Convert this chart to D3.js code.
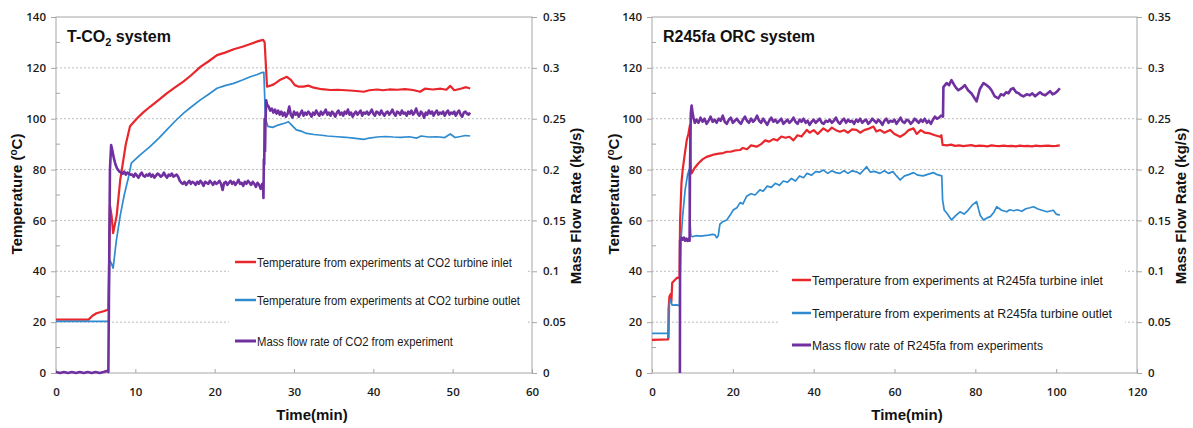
<!DOCTYPE html>
<html><head><meta charset="utf-8">
<script src="https://cdn.jsdelivr.net/npm/d3@7"></script>
<style>body{margin:0;background:#fff}</style>
</head><body>
<script>
// ---------------- DATA ----------------
const tempTicks=[0,20,40,60,80,100,120,140];
const tempMinorTicks=[10,30,50,70,90,110,130];
const flowTicks=[0,0.05,0.1,0.15,0.2,0.25,0.3,0.35];
const flowTickLabels=["0","0.05","0.1","0.15","0.2","0.25","0.3","0.35"];
const co2TimeTicks=[0,10,20,30,40,50,60];
const orcTimeTicks=[0,20,40,60,80,100,120];
const co2LegendLabels=["Temperature from experiments at CO2 turbine inlet","Temperature from experiments at CO2 turbine outlet","Mass flow rate of CO2 from experiment"];
const orcLegendLabels=["Temperature from experiments at R245fa turbine inlet","Temperature from experiments at R245fa turbine outlet","Mass flow rate of R245fa from experiments"];

// T-CO2 system : [time (min), temperature (°C)]
const co2Inlet=[[0,21],[4.1,21],[4.6,22.5],[5.1,23.5],[6.0,24.3],[6.6,25],[6.7,45],[6.8,66],[7.0,62],[7.2,55],[7.65,62],[8.1,76],[8.8,90],[9.33,97],[10.2,100.1],[11,102.5],[11.85,104.7],[13,107.5],[13.96,110],[15,112.3],[16.05,114.6],[17,117],[18.2,120.4],[19.2,122.5],[20.3,125],[21.3,126],[22.4,127.3],[23.5,128.3],[24.5,129.4],[25.5,130.5],[26.1,131],[26.3,130],[26.6,112.6],[27.0,113],[27.5,113.6],[28.2,115.2],[29.1,116.5],[29.6,115.3],[30.1,113.2],[30.6,112.6],[31.2,112.6],[31.8,113],[32.5,112.2],[33.5,111.6],[34.6,111.3],[35.5,111.4],[36.5,111.2],[37.5,111],[38.8,110.6],[39.5,111.2],[40.5,111.5],[41.2,111.2],[42,111.5],[43,111.4],[44,111.6],[45,111.3],[45.9,110.6],[46.5,111.8],[47.5,111.5],[48.5,111.8],[49.2,111.4],[49.7,112.9],[50.2,111.2],[51,111.8],[51.7,112.4],[52.2,111.9]];
const co2Outlet=[[0,20.3],[6.65,20.3],[6.75,44.5],[7.0,43],[7.2,41.2],[7.6,52],[8.1,62],[8.6,70],[9.1,76.5],[9.5,82.5],[10.5,85.5],[11.85,89],[13,92.5],[13.96,95.6],[15,99],[16.05,102.1],[17,104.5],[18.2,107.4],[19.2,109.5],[20.3,112],[21.3,113],[22.4,113.9],[23.5,115.2],[24.5,116.5],[25.3,117.3],[25.9,118.1],[26.2,118.2],[26.4,100],[26.7,97],[27.3,96.6],[28,97.5],[28.9,98.3],[29.3,98.8],[29.8,97.2],[30.3,95.6],[31,95],[31.6,94.2],[32.5,93.8],[33.5,93.5],[34.2,93.2],[35.5,92.9],[36.5,92.7],[37.5,92.4],[38.8,91.9],[39.5,92.4],[40.5,92.8],[41.5,93],[42.5,92.8],[43.5,92.7],[44.5,92.9],[45.5,92.4],[46,93.2],[47,92.8],[48,92.9],[49,92.6],[49.7,94],[50.3,92.6],[51,93],[51.6,93.4],[52.2,93.2]];
// [time (min), mass flow rate (kg/s)]
const co2Flow=[[0,0.001],[0.5,0],[1,0.001],[1.5,0],[2,0.001],[2.5,0],[3,0.001],[3.5,0],[4,0.001],[4.5,0],[5,0.001],[5.5,0],[6,0.001],[6.4,0.002],[6.6,0.001],[6.7,0.1],[6.8,0.2],[6.95,0.224],[7.1,0.219],[7.3,0.211],[7.5,0.205],[7.7,0.201],[7.9,0.199],[8.0,0.198],
[8.2,.197],[8.4,.196],[8.6,.198],[8.8,.195],[9.0,.197],[9.2,.196],[9.4,.195],
[9.6,.195],[9.8,.193],[10.0,.196],[10.2,.194],[10.4,.192],[10.6,.195],[10.8,.197],[11.0,.194],[11.2,.193],[11.4,.195],[11.6,.194],[11.8,.196],[12.0,.193],[12.2,.195],[12.4,.192],[12.6,.194],[12.8,.196],[13.0,.195],[13.2,.193],[13.4,.194],[13.6,.197],[13.8,.194],[14.0,.192],[14.2,.195],[14.4,.194],[14.6,.196],[14.8,.193],[15.0,.194],[15.2,.195],[15.4,.193],
[15.6,.189],[15.8,.187],[16.0,.186],[16.2,.188],[16.4,.185],[16.6,.187],[16.8,.189],[17.0,.186],[17.2,.188],[17.4,.187],[17.6,.185],[17.8,.188],[18.0,.186],[18.2,.189],[18.4,.187],[18.6,.184],[18.8,.188],[19.0,.187],[19.2,.186],[19.4,.189],[19.6,.187],[19.8,.185],[20.0,.188],[20.2,.186],[20.4,.187],[20.6,.189],[20.8,.186],[21.0,.180],[21.2,.187],[21.4,.188],[21.6,.185],[21.8,.187],[22.0,.189],[22.2,.186],[22.4,.188],[22.6,.185],[22.8,.187],[23.0,.190],[23.2,.186],[23.4,.187],[23.6,.184],[23.8,.188],[24.0,.186],[24.2,.189],[24.4,.187],[24.6,.185],[24.8,.188],[25.0,.186],[25.2,.183],[25.4,.187],[25.6,.185],[25.8,.181],[26.0,.186],
[26.1,.184],[26.15,.172],[26.2,.21],[26.25,.205],[26.3,.25],[26.35,.218],[26.4,.245],[26.5,.268],[26.6,.264],
[26.8,.262],[27.0,.258],[27.2,.260],[27.4,.256],[27.6,.259],[27.8,.255],[28.0,.258],[28.2,.254],[28.4,.257],[28.6,.253],[28.8,.256],[29.0,.252],[29.2,.255],[29.4,.262],[29.6,.254],[29.8,.251],
[30.0,.257],[30.2,.254],[30.4,.256],[30.6,.252],[30.8,.255],[31.0,.258],[31.2,.253],[31.4,.256],[31.6,.254],[31.8,.257],
[32.0,.255],[32.2,.252],[32.4,.256],[32.6,.254],[32.8,.258],[33.0,.255],[33.2,.253],[33.4,.257],[33.6,.254],[33.8,.256],
[34.0,.259],[34.2,.254],[34.4,.256],[34.6,.253],[34.8,.257],[35.0,.255],[35.2,.252],[35.4,.256],[35.6,.258],[35.8,.254],
[36.0,.256],[36.2,.253],[36.4,.257],[36.6,.255],[36.8,.259],[37.0,.254],[37.2,.256],[37.4,.252],[37.6,.255],[37.8,.257],
[38.0,.254],[38.2,.256],[38.4,.258],[38.6,.253],[38.8,.256],[39.0,.255],[39.2,.257],[39.4,.254],[39.6,.256],[39.8,.259],
[40.0,.255],[40.2,.253],[40.4,.257],[40.6,.256],[40.8,.254],[41.0,.258],[41.2,.255],[41.4,.253],[41.6,.256],[41.8,.257],
[42.0,.254],[42.2,.256],[42.4,.259],[42.6,.255],[42.8,.253],[43.0,.257],[43.2,.256],[43.4,.254],[43.6,.258],[43.8,.255],
[44.0,.256],[44.2,.253],[44.4,.257],[44.6,.255],[44.8,.258],[45.0,.254],[45.2,.256],[45.4,.260],[45.6,.255],[45.8,.253],
[46.0,.257],[46.2,.255],[46.4,.251],[46.6,.256],[46.8,.254],[47.0,.258],[47.2,.255],[47.4,.257],[47.6,.253],[47.8,.256],
[48.0,.258],[48.2,.254],[48.4,.256],[48.6,.255],[48.8,.257],[49.0,.253],[49.2,.256],[49.4,.258],[49.6,.254],[49.8,.256],
[50.0,.255],[50.2,.257],[50.4,.253],[50.6,.256],[50.8,.258],[51.0,.254],[51.2,.252],[51.4,.256],[51.6,.257],[51.8,.255],
[52.0,.254],[52.2,.256]];

// R245fa ORC system : [time (min), temperature (°C)]
const orcInlet=[[0,13],[4.0,13.2],[4.1,25],[4.3,30],[4.6,31],[4.8,28],[5.0,35.5],[5.6,36.5],[6.2,37.5],[6.8,37.3],[6.95,60],[7.3,75],[7.6,80],[8.1,86],[8.6,91.6],[9.0,94],[9.4,97.5],[9.6,80],[9.8,78.5],[10.5,80.5],[11.5,82.5],[12.5,84],[13.5,85],[14.5,85.5],[15.5,86],[16.5,86.3],[17.6,86.5],[18.5,87],[19.5,87],[20.5,87.5],[21.8,87.7],[22.5,88.5],[23.5,88],[24.5,89.5],[25.9,89],[27,90],[28,91.5],[29,91],[30,92],[31,91.5],[32,93],[33,92.5],[34,92.9],[35,91.5],[36,93.5],[37,93],[38.3,95.6],[39,94.5],[40,95.5],[41,94],[42.4,96.2],[43.5,95],[44.5,96.5],[45.5,95.5],[46.5,94.9],[47.5,95.5],[48.5,94.5],[49.5,95.8],[50.6,95.6],[51.5,94.5],[52.5,95.5],[53.5,96],[54.8,96.9],[55.5,95],[56.4,95.6],[57.5,94.5],[58.9,95.6],[60,94],[61.4,92.9],[62.5,94],[63.5,95.5],[64.7,96.2],[65.5,94],[66.5,95.5],[67.5,94.5],[68.8,94.2],[70,93.5],[71.3,92.9],[71.6,93.5],[71.9,89.7],[73,89.5],[74,89.8],[75,89.3],[76,89.5],[77,89.2],[78,89.4],[79,89.6],[80,89.2],[81,89.4],[82,89.3],[83,89.1],[84,89.5],[85,89.3],[86,89.2],[87,89.4],[88,89.2],[89,89.3],[90,89.1],[91,89.4],[92,89.2],[93,89.3],[94,89.1],[95,89.4],[96,89.2],[97,89.3],[98,89.4],[99,89.2],[100,89.3],[100.9,89.5]];
const orcOutlet=[[0,15.6],[3.9,15.6],[4.0,14],[4.15,14],[4.3,27],[4.5,29],[4.7,28],[5.0,26.7],[6.0,26.8],[6.8,26.5],[7.0,40],[7.2,53],[7.6,62],[8.2,72],[8.8,78],[9.2,80],[9.4,60],[9.6,54],[10,53.6],[11,54],[12,53.8],[13,54],[14,54.2],[15,54.5],[15.6,54.3],[16,53.2],[16.4,54],[16.8,58.5],[17.5,59.5],[18.5,60.2],[19.3,62],[20.1,64.1],[21,65],[21.8,67],[22.5,66.5],[23.4,69.5],[24.5,70.5],[25.5,70],[26.7,72],[27.5,71.5],[28.5,73.5],[29.5,73],[30.5,74.6],[31.5,73.8],[32.5,75.5],[33.5,75],[34.5,76.5],[35.5,75.5],[36.5,77.5],[37.5,76.8],[38.3,78.5],[39.5,77.8],[40.5,79.2],[41.5,79],[42.4,79.8],[43.5,78.5],[44.5,79.5],[45.5,78.8],[46.5,78.5],[47.5,79.5],[48.5,78.5],[49.5,79.5],[50.6,79.1],[51.5,78.3],[53.1,81.1],[54,79],[55,79.3],[56.4,78.5],[57.5,79.5],[58.5,78.5],[59.6,79.2],[60.5,77.5],[61.4,75.9],[62.5,77.5],[63.5,78],[64.7,78.8],[65.8,77.8],[67.1,77.5],[68.4,78.2],[69.6,78.8],[70.6,78],[71.7,77.5],[71.9,68],[72.3,64.1],[73.1,62.5],[74.1,60.2],[75.2,62],[76.2,63.4],[77.2,62.5],[78.2,64],[79.2,66],[80.3,67.4],[81.2,62],[82,60.2],[82.9,61],[83.7,61.5],[84.5,63],[85.3,65.4],[86.5,64],[87.8,63.4],[88.5,64.2],[89.5,63.8],[90.4,64.2],[91.5,63.6],[92.5,64.6],[93.5,65],[94.4,65.4],[95.5,64.5],[96.5,64],[97.7,63.4],[98.5,63.7],[99.3,64],[100,62.5],[100.9,62.1]];
// [time (min), mass flow rate (kg/s)]
const orcFlow=[[6.9,0],[6.95,0.13],[7.3,0.133],[7.6,0.131],[7.9,0.133],[8.2,0.13],[8.5,0.132],[8.8,0.13],[9.1,0.132],[9.3,0.13],[9.4,0.2],[9.6,0.255],[9.8,0.263],[10.0,0.257],[10.3,0.25],[10.6,0.246],
[11.0,.249],[11.5,.246],[12.0,.251],[12.5,.247],[13.0,.250],[13.5,.245],[14.0,.248],[14.5,.252],[15.0,.247],[15.5,.249],
[16.0,.246],[16.5,.250],[17.0,.248],[17.5,.253],[18.0,.247],[18.5,.245],[19.0,.249],[19.5,.251],[20.0,.246],[20.5,.248],
[21.0,.250],[21.5,.247],[22.0,.245],[22.5,.249],[23.0,.252],[23.5,.248],[24.0,.246],[24.5,.250],[25.0,.247],[25.5,.249],
[26.0,.253],[26.5,.248],[27.0,.246],[27.5,.250],[28.0,.247],[28.5,.244],[29.0,.248],[29.5,.251],[30.0,.247],[30.5,.249],
[31.0,.246],[31.5,.248],[32.0,.250],[32.5,.245],[33.0,.247],[33.5,.249],[34.0,.246],[34.5,.248],[35.0,.251],[35.5,.247],
[36.0,.245],[36.5,.249],[37.0,.247],[37.5,.250],[38.0,.246],[38.5,.248],[39.0,.244],[39.5,.247],[40.0,.249],[40.5,.246],
[41.0,.248],[41.5,.250],[42.0,.246],[42.5,.245],[43.0,.248],[43.5,.247],[44.0,.249],[44.5,.246],[45.0,.248],[45.5,.251],
[46.0,.247],[46.5,.245],[47.0,.248],[47.5,.250],[48.0,.246],[48.5,.249],[49.0,.247],[49.5,.248],[50.0,.245],[50.5,.249],
[51.0,.247],[51.5,.250],[52.0,.246],[52.5,.248],[53.0,.249],[53.5,.245],[54.0,.247],[54.5,.250],[55.0,.248],[55.5,.246],
[56.0,.249],[56.5,.247],[57.0,.244],[57.5,.248],[58.0,.250],[58.5,.246],[59.0,.248],[59.5,.247],[60.0,.249],[60.5,.245],
[61.0,.248],[61.5,.251],[62.0,.247],[62.5,.246],[63.0,.249],[63.5,.248],[64.0,.245],[64.5,.247],[65.0,.250],[65.5,.248],
[66.0,.246],[66.5,.249],[67.0,.247],[67.5,.250],[68.0,.246],[68.5,.248],[69.0,.245],[69.5,.249],[70.0,.252],[70.5,.250],
[71.0,.251],[71.5,.253],
[72.0,.252],[72.1,.281],[72.9,.285],[73.5,.283],[74.1,.288],[74.8,.283],[75.3,.280],[75.8,.278],[76.6,.280],[77.4,.283],[78.2,.278],[79.0,.275],[79.5,.272],[80.3,.267],[81.1,.279],[82.0,.285],[82.8,.283],[83.4,.281],[84.0,.278],[84.8,.272],[85.7,.270],[86.3,.274],[87.0,.273],[87.6,.276],[88.2,.275],[88.8,.279],[89.4,.280],[90.1,.276],[90.7,.275],[91.3,.273],[91.9,.272],[92.7,.274],[93.5,.273],[94.1,.275],[94.8,.272],[95.4,.274],[96.0,.276],[96.6,.274],[97.3,.273],[97.9,.275],[98.5,.277],[99.1,.274],[99.7,.275],[100.3,.277],[100.9,.280]];

// ---------------- DRAWING ----------------
const C_RED="#e8262b", C_BLUE="#2f8bcf", C_PURPLE="#7030a0";
const TICKFONT="'Open Sans', sans-serif";
const LABFONT="'Liberation Sans Narrow', 'Liberation Sans', Arial, sans-serif";
const svg=d3.select("body").append("svg").attr("width",1193).attr("height",428);

function panel(o){
  const g=svg.append("g");
  const x=d3.scaleLinear().domain(o.xDomain).range([o.left,o.right]);
  const yT=d3.scaleLinear().domain([0,140]).range([373,17]);
  const yM=d3.scaleLinear().domain([0,0.35]).range([373,17]);

  // gridlines
  g.append("g").selectAll("line").data(tempTicks.filter(d=>d>0&&d<140)).join("line")
    .attr("x1",o.left).attr("x2",o.right).attr("y1",d=>yT(d)).attr("y2",d=>yT(d))
    .attr("stroke","#bdbdbd").attr("stroke-dasharray","2,2");

  // legend background (covers gridlines)
  g.append("rect").attr("x",o.legBox[0]).attr("y",o.legBox[1]).attr("width",o.legBox[2]).attr("height",o.legBox[3]).attr("fill","#fff");

  // frame
  g.append("rect").attr("x",o.left).attr("y",17).attr("width",o.right-o.left).attr("height",356)
    .attr("fill","none").attr("stroke","#a6a6a6");

  // axes
  const ax=g.append("g").attr("transform",`translate(${o.left},0)`)
    .call(d3.axisLeft(yT).tickValues(tempTicks).tickSize(5).tickPadding(5));
  const ar=g.append("g").attr("transform",`translate(${o.right},0)`)
    .call(d3.axisRight(yM).tickValues(flowTicks).tickFormat((d,i)=>flowTickLabels[i]).tickSize(5).tickPadding(6));
  const ab=g.append("g").attr("transform","translate(0,373)")
    .call(d3.axisBottom(x).tickValues(o.xTicks).tickSizeInner(-4).tickSizeOuter(0).tickPadding(15));
  [ax,ar,ab].forEach(a=>{
    a.select(".domain").remove();
    a.selectAll("line").attr("stroke","#a6a6a6");
    a.selectAll("text").attr("font-family",TICKFONT).attr("font-weight",600).attr("font-size","11.5px").attr("fill","#1a1a1a");
  });
  ab.selectAll("text").attr("dy","0.71em");
  // minor ticks (inside)
  g.append("g").selectAll("line").data(tempMinorTicks).join("line")
    .attr("x1",o.left).attr("x2",o.left+4).attr("y1",d=>yT(d)).attr("y2",d=>yT(d)).attr("stroke","#a6a6a6");

  // data lines
  const lineT=d3.line().x(d=>x(d[0])).y(d=>yT(d[1]));
  const lineM=d3.line().x(d=>x(d[0])).y(d=>yM(d[1]));
  g.append("path").datum(o.inlet).attr("d",lineT).attr("fill","none").attr("stroke",C_RED).attr("stroke-width",2.2).attr("stroke-linejoin","round");
  g.append("path").datum(o.outlet).attr("d",lineT).attr("fill","none").attr("stroke",C_BLUE).attr("stroke-width",1.7).attr("stroke-linejoin","round");
  g.append("path").datum(o.flow).attr("d",lineM).attr("fill","none").attr("stroke",C_PURPLE).attr("stroke-width",2.6).attr("stroke-linejoin","round");

  // legend
  const cols=[C_RED,C_BLUE,C_PURPLE], widths=[2.5,2.5,3];
  o.legendLabels.forEach((lab,i)=>{
    g.append("line").attr("x1",o.legX[0]).attr("x2",o.legX[1]).attr("y1",o.legY[i]).attr("y2",o.legY[i])
      .attr("stroke",cols[i]).attr("stroke-width",widths[i]);
    g.append("text").attr("x",o.legX[1]+1).attr("y",o.legY[i]+4.5).text(lab)
      .attr("font-family",LABFONT).attr("font-size","12.5px").attr("fill","#1a1a1a")
      .attr("textLength",o.legW[i]).attr("lengthAdjust","spacingAndGlyphs");
  });

  // title
  const t=g.append("text").attr("x",o.left+11).attr("y",42).attr("font-family","'Liberation Sans', Arial, sans-serif")
    .attr("font-weight","bold").attr("font-size","16px").attr("fill","#111");
  o.title(t);

  // axis titles
  const yl=g.append("text").attr("transform",`translate(${o.ylx},194) rotate(-90)`).attr("text-anchor","middle")
    .attr("font-family",LABFONT).attr("font-weight","bold").attr("font-size","15px").attr("fill","#111");
  yl.append("tspan").text("Temperature (");
  yl.append("tspan").text("o").attr("font-size","10px").attr("dy","-5");
  yl.append("tspan").text("C)").attr("dy","5");
  g.append("text").attr("transform",`translate(${o.yrx},206) rotate(-90)`).attr("text-anchor","middle")
    .attr("font-family",LABFONT).attr("font-weight","bold").attr("font-size","15px").attr("fill","#111")
    .text("Mass Flow Rate (kg/s)");
  g.append("text").attr("x",o.xtx).attr("y",420).attr("text-anchor","middle")
    .attr("font-family",LABFONT).attr("font-weight","bold").attr("font-size","15px").attr("fill","#111")
    .text("Time(min)");
}

panel({xDomain:[0,60],left:56,right:532,xTicks:co2TimeTicks,inlet:co2Inlet,outlet:co2Outlet,flow:co2Flow,
  legBox:[229,238,298,120],legX:[235,256],legY:[262,300,341],legW:[255,263,196],legendLabels:co2LegendLabels,
  title:t=>{t.append("tspan").text("T-CO");t.append("tspan").text("2").attr("font-size","11px").attr("dy","4");t.append("tspan").text(" system").attr("dy","-4");},
  ylx:22,yrx:581,xtx:312});
panel({xDomain:[0,120],left:652,right:1137,xTicks:orcTimeTicks,inlet:orcInlet,outlet:orcOutlet,flow:orcFlow,
  legBox:[780,250,345,115],legX:[792,811],legY:[280,313,345],legW:[291,300,231],legendLabels:orcLegendLabels,
  title:t=>{t.text("R245fa ORC system");},
  ylx:619,yrx:1186,xtx:907});
</script>
</body></html>
